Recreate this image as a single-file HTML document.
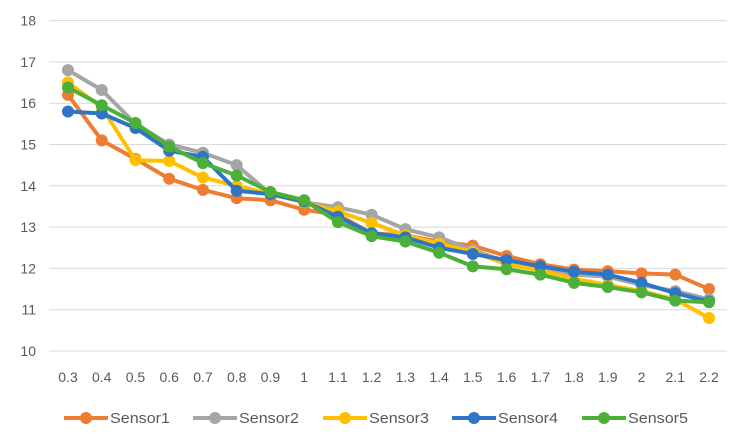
<!DOCTYPE html>
<html><head><meta charset="utf-8"><style>
body{margin:0;background:#fff;}
svg{display:block;font-family:"Liberation Sans",sans-serif;}
</style></head><body>
<svg id="chart" width="742" height="437" viewBox="0 0 742 437">
<g id="grid"></g><g id="axis"></g><g id="series"></g><g id="legend"></g>
</svg>
<script>
const categories=["0.3","0.4","0.5","0.6","0.7","0.8","0.9","1","1.1","1.2","1.3","1.4","1.5","1.6","1.7","1.8","1.9","2","2.1","2.2"];
const yTicks=[10,11,12,13,14,15,16,17,18];
const seriesNames=["Sensor1","Sensor2","Sensor3","Sensor4","Sensor5"];
const sensor1=[16.2,15.1,14.65,14.17,13.9,13.7,13.65,13.42,13.3,12.85,12.8,12.65,12.55,12.3,12.1,11.97,11.93,11.88,11.85,11.5];
const sensor2=[16.8,16.32,15.5,15.0,14.8,14.5,13.8,13.6,13.48,13.3,12.95,12.75,12.45,12.15,12.0,11.85,11.8,11.6,11.45,11.25];
const sensor3=[16.5,15.9,14.62,14.6,14.2,14.0,13.8,13.6,13.38,13.1,12.8,12.6,12.4,12.1,11.95,11.75,11.6,11.45,11.25,10.8];
const sensor4=[15.8,15.75,15.4,14.85,14.7,13.88,13.8,13.62,13.25,12.85,12.75,12.5,12.35,12.2,12.05,11.92,11.85,11.65,11.4,11.2];
const sensor5=[16.38,15.95,15.52,14.95,14.55,14.25,13.85,13.65,13.12,12.78,12.65,12.38,12.05,11.98,11.85,11.65,11.55,11.42,11.22,11.18];
const allSeries=[sensor1,sensor2,sensor3,sensor4,sensor5];
</script>
<script>
const NS="http://www.w3.org/2000/svg";
const colors=["#ED7D31","#A5A5A5","#FFC000","#2E75C6","#4CAF3A"];
const plotL=49,plotR=727,yMin=10,yMax=18,yTop=20.6,yBot=351;
function xPos(i){return 68+i*(709-68)/(categories.length-1);}
function yPos(v){return yBot-(v-yMin)/(yMax-yMin)*(yBot-yTop);}
function mk(tag,attrs,parent){const e=document.createElementNS(NS,tag);for(const k in attrs)e.setAttribute(k,attrs[k]);parent.appendChild(e);return e;}
const grid=document.getElementById('grid'),axis=document.getElementById('axis'),ser=document.getElementById('series'),leg=document.getElementById('legend');
yTicks.forEach(t=>{
 const l=mk('line',{x1:plotL,x2:plotR,y1:yPos(t),y2:yPos(t),stroke:'#D9D9D9','stroke-width':1},grid);
 
 
 const tx=mk('text',{x:36,y:yPos(t)+5,'text-anchor':'end','font-size':14,fill:'#595959'},axis);
 tx.textContent=t;
 
 
});
categories.forEach((c,i)=>{
 const tx=mk('text',{x:xPos(i),y:382,'text-anchor':'middle','font-size':14,fill:'#595959'},axis);
 tx.textContent=c;
 
 
});
allSeries.forEach((s,si)=>{
 const g=mk('g',{},ser);
 
 
 const pts=s.map((v,i)=>xPos(i)+','+yPos(v)).join(' ');
 const pl=mk('polyline',{points:pts,fill:'none',stroke:colors[si],'stroke-width':4,'stroke-linejoin':'round'},g);
 
 
 s.forEach((v,i)=>{
  const c=mk('circle',{cx:xPos(i),cy:yPos(v),r:6,fill:colors[si]},g);
  
  
 });
});
const legX=[64,193,323,452,582];
seriesNames.forEach((n,i)=>{
 const g=mk('g',{},leg);
 
 
 const x=legX[i],y=418;
 mk('line',{x1:x,x2:x+44,y1:y,y2:y,stroke:colors[i],'stroke-width':4},g);
 mk('circle',{cx:x+22,cy:y,r:6,fill:colors[i]},g);
 const t=mk('text',{x:x+46,y:y+5,'font-size':15,fill:'#595959',textLength:60,lengthAdjust:'spacingAndGlyphs'},g);
 t.textContent=n;
});
</script>
</body></html>
